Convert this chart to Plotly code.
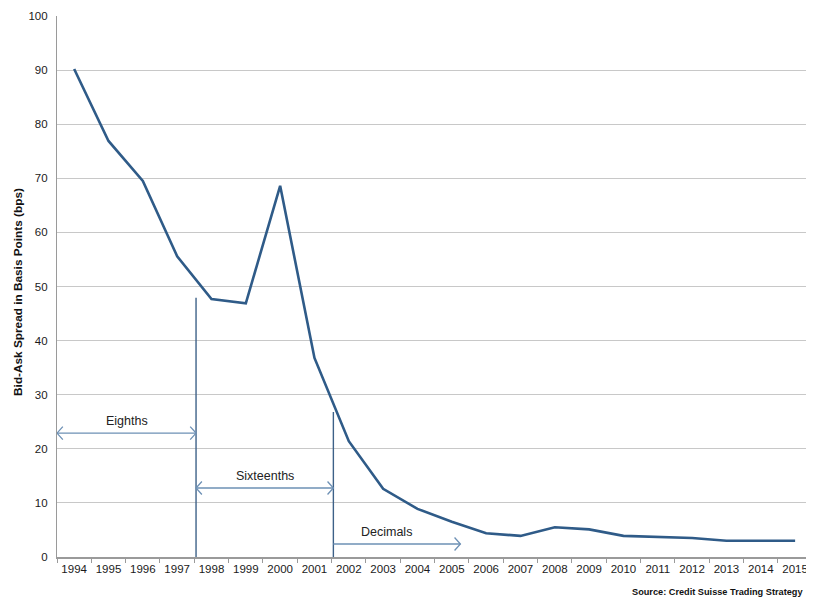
import plotly.graph_objects as go

years = list(range(1994, 2016))
spread_bps = [90.2, 76.9, 69.5, 55.6, 47.7, 46.9, 68.6, 36.8, 21.4, 12.6, 8.9,
              6.5, 4.4, 3.9, 5.5, 5.1, 3.9, 3.7, 3.5, 3.0, 3.0, 3.0]

# regime boundary markers (x position, top value)
regime_x = [1997.55, 2001.55]
regime_top = [47.9, 26.8]

# regime arrows: label, x start, x end, y level
regime_labels = ["Eighths", "Sixteenths", "Decimals"]
arrow_x0 = [1993.5, 1997.55, 2001.55]
arrow_x1 = [1997.55, 2001.55, 2005.25]
arrow_y = [22.9, 12.75, 2.4]
arrow_both = [True, True, False]

line_color = "#2f5b88"
arrow_color = "#6d90b5"

fig = go.Figure()
fig.add_trace(go.Scatter(x=years, y=spread_bps, mode="lines",
                         line=dict(color=line_color, width=2.6),
                         hoverinfo="skip", showlegend=False))

for xv, top in zip(regime_x, regime_top):
    fig.add_trace(go.Scatter(x=[xv, xv], y=[0, top], mode="lines",
                             line=dict(color="#3d6188", width=1.4),
                             hoverinfo="skip", showlegend=False))

hx, hy = 0.17, 1.2
for lab, x0, x1, yv, both in zip(regime_labels, arrow_x0, arrow_x1, arrow_y, arrow_both):
    fig.add_trace(go.Scatter(x=[x0, x1], y=[yv, yv], mode="lines",
                             line=dict(color=arrow_color, width=1.3),
                             hoverinfo="skip", showlegend=False))
    fig.add_trace(go.Scatter(x=[x1 - hx, x1, x1 - hx], y=[yv + hy, yv, yv - hy], mode="lines",
                             line=dict(color=arrow_color, width=1.3),
                             hoverinfo="skip", showlegend=False))
    if both:
        fig.add_trace(go.Scatter(x=[x0 + hx, x0, x0 + hx], y=[yv + hy, yv, yv - hy], mode="lines",
                                 line=dict(color=arrow_color, width=1.3),
                                 hoverinfo="skip", showlegend=False))
    fig.add_annotation(x=(x0 + x1) / 2 if both else x0 + 1.55, y=yv, text=lab,
                       showarrow=False, yanchor="bottom", yshift=3,
                       font=dict(family="Liberation Sans, Arial, sans-serif", size=12.5, color="#222"))

# page has an 8px body margin, so the figure is sized to fit the 814x597 window
W, H = 806, 589
L, R, T, B = 49, 0, 8, 40
PW, PH = W - L - R, H - T - B

fig.update_layout(
    width=W, height=H,
    margin=dict(l=L, r=R, t=T, b=B, autoexpand=False),
    paper_bgcolor="white", plot_bgcolor="white",
    font=dict(family="Liberation Sans, Arial, sans-serif", size=11, color="#222"),
    xaxis=dict(range=[1993.5, 2015.55], tickvals=years, ticktext=[str(y) for y in years],
               showgrid=False, zeroline=False, showline=True, linecolor="#9a9a9a", linewidth=1.5,
               ticks="", tickfont=dict(size=11.5, color="#1a1a1a"), automargin=False,
               minor=dict(tick0=1993.5, dtick=1, ticks="outside", ticklen=4,
                          tickcolor="#9a9a9a", showgrid=False)),
    yaxis=dict(range=[0, 100], dtick=10, showgrid=True, gridcolor="#c8c8c8", gridwidth=1.2,
               zeroline=False, showline=True, linecolor="#9a9a9a", linewidth=1.2,
               ticks="", tickfont=dict(size=11.5, color="#1a1a1a"), ticklabelstandoff=6,
               automargin=False),
    annotations=list(fig.layout.annotations) + [
        dict(text="<b>Bid-Ask Spread in Basis Points (bps)</b>", textangle=-90,
             xref="paper", yref="paper", x=-(L - 10) / PW, y=0.49,
             showarrow=False, xanchor="center", yanchor="middle",
             font=dict(size=11.8, color="#111")),
        dict(text="<b>Source: Credit Suisse Trading Strategy</b>",
             xref="paper", yref="paper", x=(797 - L) / PW, y=-(584 - (T + PH)) / PH,
             showarrow=False, xanchor="right", yanchor="middle",
             font=dict(size=9.2, color="#111")),
    ],
)

fig.write_html("out.html")
